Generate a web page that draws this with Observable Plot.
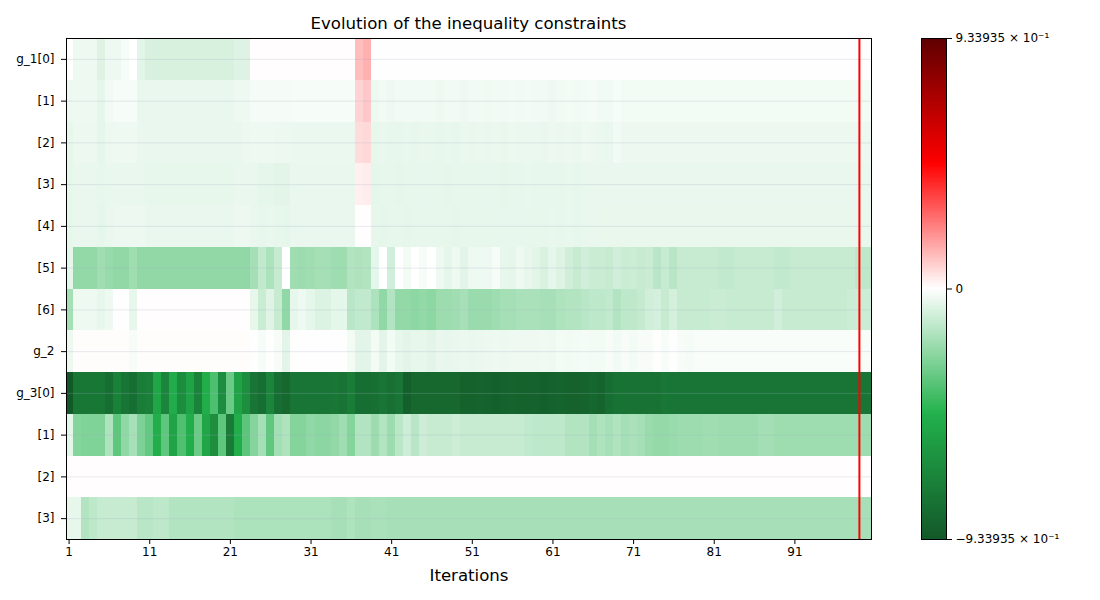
<!DOCTYPE html>
<html><head><meta charset="utf-8">
<script src="https://cdn.jsdelivr.net/npm/d3@7"></script>
<script src="https://cdn.jsdelivr.net/npm/@observablehq/plot@0.6"></script>
<style>
body{margin:0;background:#fff;font-family:"DejaVu Sans",sans-serif;}
#wrap{position:relative;width:1100px;height:600px;}
#title{position:absolute;left:66px;width:805px;top:14px;text-align:center;font-size:16.6px;line-height:20px;color:#000;}
#main{position:absolute;left:0;top:0;}
#cbar{position:absolute;left:880px;top:0;}
</style></head><body>
<div id="wrap"><div id="main"></div><div id="cbar"></div><div id="title">Evolution of the inequality constraints</div></div>
<script>
const rowLabels = ["g_1[0]", "[1]", "[2]", "[3]", "[4]", "[5]", "[6]", "g_2", "g_3[0]", "[1]", "[2]", "[3]"];
const iterations = d3.range(1, 101);
const xTicks = [1, 11, 21, 31, 41, 51, 61, 71, 81, 91];
const bestIteration = 99;
const vmax = 0.933935;
const cbarTickLabels = ["\u22129.33935 \u00d7 10\u207b\u00b9", "0", "9.33935 \u00d7 10\u207b\u00b9"];

const g1_0 = [0, -0.036, -0.036, -0.036, -0.07, -0.036, -0.036, -0.02, 0, -0.06,
 -0.085, -0.085, -0.085, -0.085, -0.085, -0.085, -0.085, -0.085, -0.085, -0.085,
 -0.085, -0.07, -0.07, 0.003, 0.003, 0.003, 0.003, 0.003, 0.003, 0.003,
 0.003, 0.003, 0.003, 0.003, 0.003, 0.003, 0.12, 0.145, 0.002, 0.002,
 0.002, 0.002, 0.002, 0.002, 0.002, 0.002, 0.002, 0.002, 0.002, 0.002,
 0.002, 0.002, 0.002, 0.002, 0.002, 0.002, 0.002, 0.002, 0.002, 0.002, 0.002,
 0.002, 0.002, 0.002, 0.002, 0.002, 0.002, 0.002, 0.002, 0.002, 0.002,
 0.002, 0.002, 0.002, 0.002, 0.002, 0.002, 0.002, 0.002, 0.002, 0.002,
 0.002, 0.002, 0.002, 0.002, 0.002, 0.002, 0.002, 0.002, 0.002, 0.002,
 0.002, 0.002, 0.002, 0.002, 0.002, 0.002, 0.002, 0.002, 0.002];

const g1_1 = [-0.04, -0.035, -0.035, -0.035, -0.055, -0.03, -0.02, -0.02, -0.02, -0.045,
 -0.045, -0.045, -0.045, -0.045, -0.045, -0.045, -0.045, -0.045, -0.045, -0.045,
 -0.045, -0.035, -0.035, -0.022, -0.022, -0.022, -0.022, -0.022, -0.02, -0.02,
 -0.02, -0.02, -0.02, -0.02, -0.02, -0.02, 0.08, 0.1, -0.035, -0.03,
 -0.035, -0.03, -0.028, -0.03, -0.028, -0.028, -0.033, -0.028, -0.03, -0.034,
 -0.03, -0.028, -0.032, -0.028, -0.03, -0.026, -0.03, -0.025, -0.027, -0.03, -0.033,
 -0.028, -0.025, -0.03, -0.026, -0.022, -0.028, -0.03, -0.018, -0.025, -0.025,
 -0.025, -0.025, -0.025, -0.025, -0.025, -0.025, -0.025, -0.025, -0.025, -0.025,
 -0.025, -0.025, -0.025, -0.025, -0.025, -0.025, -0.025, -0.025, -0.025, -0.025,
 -0.025, -0.025, -0.025, -0.025, -0.025, -0.025, -0.025, -0.025, -0.025];

const g1_2 = [-0.05, -0.04, -0.04, -0.04, -0.055, -0.04, -0.036, -0.036, -0.036, -0.045,
 -0.045, -0.045, -0.045, -0.045, -0.045, -0.045, -0.045, -0.045, -0.045, -0.045,
 -0.045, -0.045, -0.04, -0.035, -0.035, -0.035, -0.04, -0.04, -0.042, -0.042,
 -0.042, -0.042, -0.042, -0.042, -0.042, -0.042, 0.065, 0.07, -0.05, -0.045,
 -0.05, -0.048, -0.045, -0.05, -0.047, -0.045, -0.05, -0.045, -0.048, -0.044,
 -0.046, -0.042, -0.045, -0.044, -0.046, -0.04, -0.044, -0.042, -0.043, -0.045, -0.04,
 -0.043, -0.038, -0.042, -0.036, -0.04, -0.042, -0.045, -0.03, -0.04, -0.04,
 -0.04, -0.04, -0.04, -0.04, -0.04, -0.04, -0.04, -0.04, -0.04, -0.04,
 -0.04, -0.04, -0.04, -0.04, -0.04, -0.04, -0.04, -0.04, -0.04, -0.04,
 -0.04, -0.04, -0.04, -0.04, -0.04, -0.04, -0.04, -0.04, -0.04];

const g1_3 = [-0.05, -0.045, -0.045, -0.045, -0.05, -0.045, -0.045, -0.045, -0.045, -0.045,
 -0.05, -0.05, -0.05, -0.05, -0.05, -0.05, -0.05, -0.05, -0.05, -0.05,
 -0.05, -0.045, -0.045, -0.045, -0.055, -0.055, -0.06, -0.06, -0.045, -0.045,
 -0.045, -0.045, -0.045, -0.045, -0.045, -0.045, 0.03, 0.035, -0.055, -0.05,
 -0.05, -0.052, -0.05, -0.05, -0.048, -0.05, -0.05, -0.052, -0.05, -0.048,
 -0.05, -0.05, -0.048, -0.05, -0.052, -0.05, -0.048, -0.046, -0.048, -0.05, -0.048,
 -0.05, -0.046, -0.048, -0.046, -0.045, -0.046, -0.045, -0.045, -0.045, -0.045,
 -0.045, -0.045, -0.045, -0.045, -0.045, -0.045, -0.045, -0.045, -0.045, -0.045,
 -0.045, -0.045, -0.045, -0.045, -0.045, -0.045, -0.045, -0.045, -0.045, -0.045,
 -0.045, -0.045, -0.045, -0.045, -0.045, -0.045, -0.045, -0.045, -0.045];

const g1_4 = [-0.05, -0.045, -0.045, -0.045, -0.055, -0.045, -0.04, -0.04, -0.04, -0.04,
 -0.045, -0.045, -0.045, -0.045, -0.045, -0.045, -0.045, -0.045, -0.045, -0.045,
 -0.045, -0.04, -0.04, -0.045, -0.05, -0.045, -0.05, -0.055, -0.045, -0.045,
 -0.045, -0.045, -0.045, -0.045, -0.045, -0.045, 0.004, 0.004, -0.05, -0.055,
 -0.05, -0.05, -0.052, -0.05, -0.05, -0.048, -0.05, -0.05, -0.052, -0.05,
 -0.05, -0.048, -0.05, -0.05, -0.048, -0.05, -0.048, -0.05, -0.049, -0.048, -0.046,
 -0.048, -0.046, -0.048, -0.046, -0.045, -0.046, -0.046, -0.046, -0.046, -0.046,
 -0.046, -0.046, -0.046, -0.046, -0.046, -0.046, -0.046, -0.046, -0.046, -0.046,
 -0.046, -0.046, -0.046, -0.046, -0.046, -0.046, -0.046, -0.046, -0.046, -0.046,
 -0.046, -0.046, -0.046, -0.046, -0.046, -0.046, -0.046, -0.046, -0.046];

const g1_5 = [-0.055, -0.23, -0.23, -0.23, -0.2, -0.22, -0.235, -0.235, -0.2, -0.233,
 -0.233, -0.233, -0.233, -0.233, -0.233, -0.233, -0.233, -0.233, -0.233, -0.233,
 -0.233, -0.233, -0.233, -0.19, -0.13, -0.175, -0.12, 0, -0.2, -0.21,
 -0.2, -0.19, -0.19, -0.205, -0.205, -0.16, -0.17, -0.16, -0.055, 0,
 -0.1, 0.001, -0.025, 0, -0.02, 0, -0.035, -0.055, -0.035, -0.06,
 -0.035, -0.035, -0.035, -0.02, -0.05, -0.055, -0.035, -0.05, -0.06, -0.08, -0.055,
 -0.07, -0.1, -0.12, -0.1, -0.115, -0.115, -0.12, -0.1, -0.115, -0.11,
 -0.12, -0.115, -0.15, -0.12, -0.15, -0.12, -0.12, -0.12, -0.12, -0.12,
 -0.13, -0.13, -0.12, -0.12, -0.12, -0.12, -0.12, -0.13, -0.13, -0.12,
 -0.12, -0.12, -0.12, -0.12, -0.12, -0.12, -0.12, -0.135, -0.135];

const g1_6 = [-0.19, -0.036, -0.036, -0.036, -0.05, -0.036, 0.002, 0.002, -0.05, 0.003,
 0.003, 0.003, 0.003, 0.003, 0.003, 0.003, 0.003, 0.003, 0.003, 0.003,
 0.003, 0.003, 0.003, -0.05, -0.115, -0.065, -0.12, -0.235, -0.05, -0.035,
 -0.055, -0.075, -0.075, -0.055, -0.055, -0.15, -0.13, -0.13, -0.175, -0.235,
 -0.16, -0.23, -0.23, -0.24, -0.23, -0.24, -0.21, -0.21, -0.2, -0.185,
 -0.215, -0.215, -0.215, -0.205, -0.19, -0.19, -0.18, -0.18, -0.18, -0.185, -0.185,
 -0.17, -0.16, -0.16, -0.15, -0.14, -0.14, -0.13, -0.16, -0.14, -0.135,
 -0.125, -0.1, -0.09, -0.12, -0.09, -0.12, -0.12, -0.12, -0.12, -0.115,
 -0.115, -0.12, -0.12, -0.12, -0.12, -0.12, -0.12, -0.1, -0.12, -0.12,
 -0.12, -0.12, -0.12, -0.12, -0.12, -0.12, -0.11, -0.11, -0.11];

const g2 = [-0.04, 0.005, 0.005, 0.005, 0.005, 0.005, 0.005, 0.005, -0.015, 0.006,
 0.006, 0.006, 0.006, 0.006, 0.006, 0.006, 0.006, 0.006, 0.006, 0.006,
 0.006, 0.006, 0.006, 0.001, -0.02, 0.001, -0.015, -0.06, 0.001, 0.001,
 0.001, 0.001, 0.001, 0.001, 0.001, -0.025, -0.06, -0.06, -0.025, -0.06,
 -0.025, -0.05, -0.06, -0.05, -0.05, -0.06, -0.045, -0.048, -0.045, -0.042,
 -0.045, -0.042, -0.04, -0.035, -0.038, -0.035, -0.033, -0.035, -0.034, -0.032, -0.035,
 -0.025, -0.028, -0.025, -0.022, -0.025, -0.025, -0.015, -0.03, -0.015, -0.025,
 -0.015, -0.015, 0.001, -0.015, 0.001, -0.015, -0.022, -0.012, -0.012, -0.012,
 -0.012, -0.012, -0.012, -0.012, -0.012, -0.012, -0.012, -0.012, -0.012, -0.012,
 -0.012, -0.012, -0.012, -0.012, -0.012, -0.012, -0.012, -0.012, -0.012];

const g3_0 = [-0.933935, -0.77, -0.77, -0.77, -0.77, -0.82, -0.72, -0.78, -0.82, -0.74,
 -0.73, -0.53, -0.7, -0.5, -0.66, -0.54, -0.71, -0.49, -0.376, -0.66,
 -0.315, -0.54, -0.65, -0.78, -0.82, -0.7, -0.82, -0.85, -0.78, -0.78,
 -0.78, -0.78, -0.78, -0.77, -0.79, -0.74, -0.82, -0.82, -0.81, -0.78,
 -0.81, -0.78, -0.89, -0.85, -0.85, -0.85, -0.85, -0.85, -0.85, -0.88,
 -0.88, -0.87, -0.88, -0.89, -0.88, -0.87, -0.88, -0.88, -0.88, -0.89, -0.88,
 -0.87, -0.88, -0.88, -0.87, -0.86, -0.87, -0.82, -0.8, -0.8, -0.8,
 -0.8, -0.8, -0.8, -0.77, -0.78, -0.78, -0.78, -0.78, -0.78, -0.78,
 -0.78, -0.78, -0.78, -0.78, -0.78, -0.78, -0.78, -0.78, -0.78, -0.78,
 -0.78, -0.78, -0.78, -0.78, -0.78, -0.78, -0.78, -0.78, -0.78];

const g3_1 = [-0.055, -0.26, -0.27, -0.27, -0.27, -0.17, -0.34, -0.235, -0.185, -0.275,
 -0.33, -0.48, -0.34, -0.54, -0.375, -0.49, -0.315, -0.53, -0.65, -0.34,
 -0.75, -0.49, -0.345, -0.255, -0.19, -0.335, -0.195, -0.17, -0.26, -0.26,
 -0.235, -0.245, -0.245, -0.23, -0.2, -0.26, -0.16, -0.16, -0.21, -0.16,
 -0.21, -0.145, -0.105, -0.15, -0.105, -0.12, -0.12, -0.12, -0.105, -0.12,
 -0.12, -0.12, -0.12, -0.12, -0.12, -0.12, -0.12, -0.13, -0.14, -0.14, -0.14,
 -0.14, -0.16, -0.16, -0.16, -0.19, -0.17, -0.185, -0.165, -0.19, -0.18,
 -0.19, -0.215, -0.225, -0.225, -0.215, -0.21, -0.21, -0.21, -0.2, -0.2,
 -0.21, -0.21, -0.21, -0.21, -0.21, -0.195, -0.195, -0.205, -0.205, -0.205,
 -0.205, -0.205, -0.205, -0.205, -0.205, -0.205, -0.205, -0.205, -0.205];

const g3_2 = [0.003, 0.003, 0.003, 0.003, 0.003, 0.003, 0.003, 0.003, 0.003, 0.003,
 0.003, 0.003, 0.003, 0.003, 0.003, 0.003, 0.003, 0.003, 0.003, 0.003,
 0.003, 0.003, 0.003, 0.003, 0.003, 0.003, 0.003, 0.003, 0.003, 0.003,
 0.003, 0.003, 0.003, 0.003, 0.003, 0.003, 0.003, 0.003, 0.003, 0.003,
 0.003, 0.003, 0.003, 0.003, 0.003, 0.003, 0.003, 0.003, 0.003, 0.003,
 0.003, 0.003, 0.003, 0.003, 0.003, 0.003, 0.003, 0.003, 0.003, 0.003, 0.003,
 0.003, 0.003, 0.003, 0.003, 0.003, 0.003, 0.003, 0.003, 0.003, 0.003,
 0.003, 0.003, 0.003, 0.003, 0.003, 0.003, 0.003, 0.003, 0.003, 0.003,
 0.003, 0.003, 0.003, 0.003, 0.003, 0.003, 0.003, 0.003, 0.003, 0.003,
 0.003, 0.003, 0.003, 0.003, 0.003, 0.003, 0.003, 0.003, 0.003];

const g3_3 = [-0.05, -0.05, -0.16, -0.14, -0.12, -0.12, -0.12, -0.12, -0.12, -0.15,
 -0.15, -0.14, -0.14, -0.16, -0.16, -0.16, -0.16, -0.16, -0.16, -0.16,
 -0.16, -0.175, -0.175, -0.175, -0.175, -0.175, -0.175, -0.175, -0.175, -0.175,
 -0.175, -0.175, -0.175, -0.185, -0.185, -0.17, -0.185, -0.185, -0.18, -0.18,
 -0.185, -0.185, -0.185, -0.185, -0.185, -0.185, -0.185, -0.185, -0.185, -0.185,
 -0.185, -0.185, -0.185, -0.185, -0.185, -0.185, -0.185, -0.185, -0.185, -0.185, -0.185,
 -0.185, -0.185, -0.185, -0.185, -0.185, -0.185, -0.185, -0.185, -0.185, -0.185,
 -0.185, -0.185, -0.185, -0.185, -0.185, -0.185, -0.185, -0.185, -0.185, -0.185,
 -0.185, -0.185, -0.185, -0.185, -0.185, -0.185, -0.185, -0.185, -0.185, -0.185,
 -0.185, -0.185, -0.185, -0.185, -0.185, -0.185, -0.185, -0.185, -0.185];

const rows = [g1_0, g1_1, g1_2, g1_3, g1_4, g1_5, g1_6, g2, g3_0, g3_1, g3_2, g3_3];
rows.forEach((r, i) => { if (r.length !== iterations.length) throw new Error("row " + i + " has " + r.length); });

const cells = rows.flatMap((vals, r) => vals.map((v, i) => ({row: r, iteration: iterations[i], value: v})));
const rowCenters = rowLabels.map((_, r) => r + 0.5);

const colorOpts = {
  type: "linear",
  domain: [-vmax, -vmax / 2, 0, vmax / 2, vmax],
  range: ["#135829", "#22b14c", "#ffffff", "#ff0000", "#5e0000"],
  interpolate: "rgb"
};

const baseStyle = {fontFamily: "DejaVu Sans", fontSize: "12px", color: "black", background: "white"};

const main = Plot.plot({
  width: 880, height: 600,
  marginLeft: 66, marginRight: 9, marginTop: 38, marginBottom: 61,
  style: baseStyle,
  x: {domain: [0.68, 100.5]},
  y: {domain: [12, 0]},
  color: colorOpts,
  marks: [
    Plot.rect(cells, {x1: d => d.iteration - 0.5, x2: d => d.iteration + 0.5, y1: "row", y2: d => d.row + 1, fill: "value", shapeRendering: "crispEdges", clip: true}),
    Plot.ruleY(rowCenters, {stroke: "#a0b4c8", strokeOpacity: 0.25}),
    Plot.ruleX([bestIteration], {stroke: "red", strokeWidth: 2}),
    Plot.frame({stroke: "black"}),
    Plot.axisY({ticks: rowCenters, tickFormat: d => rowLabels[Math.floor(d)], tickSize: 5, tickPadding: 7, label: null}),
    Plot.axisX({ticks: xTicks, tickFormat: d => String(d), tickSize: 5, tickPadding: 3, label: null}),
    Plot.text(["Iterations"], {frameAnchor: "bottom", dy: 41, fontSize: 16.6})
  ]
});
document.getElementById("main").appendChild(main);

const steps = d3.range(300).map(i => ({lo: -vmax + 2 * vmax * i / 300, hi: -vmax + 2 * vmax * (i + 1) / 300}));
const cbar = Plot.plot({
  width: 220, height: 600,
  marginLeft: 41, marginRight: 154, marginTop: 38, marginBottom: 61,
  style: baseStyle,
  x: {domain: [0, 1], axis: null},
  y: {domain: [-vmax, vmax]},
  color: colorOpts,
  marks: [
    Plot.rect(steps, {x1: () => 0, x2: () => 1, y1: "lo", y2: "hi", fill: d => (d.lo + d.hi) / 2, shapeRendering: "crispEdges"}),
    Plot.frame({stroke: "black"}),
    Plot.axisY({anchor: "right", ticks: [-vmax, 0, vmax], tickFormat: d => d === 0 ? cbarTickLabels[1] : (d > 0 ? cbarTickLabels[2] : cbarTickLabels[0]), tickSize: 5, tickPadding: 4, label: null})
  ]
});
document.getElementById("cbar").appendChild(cbar);
</script>
</body></html>
